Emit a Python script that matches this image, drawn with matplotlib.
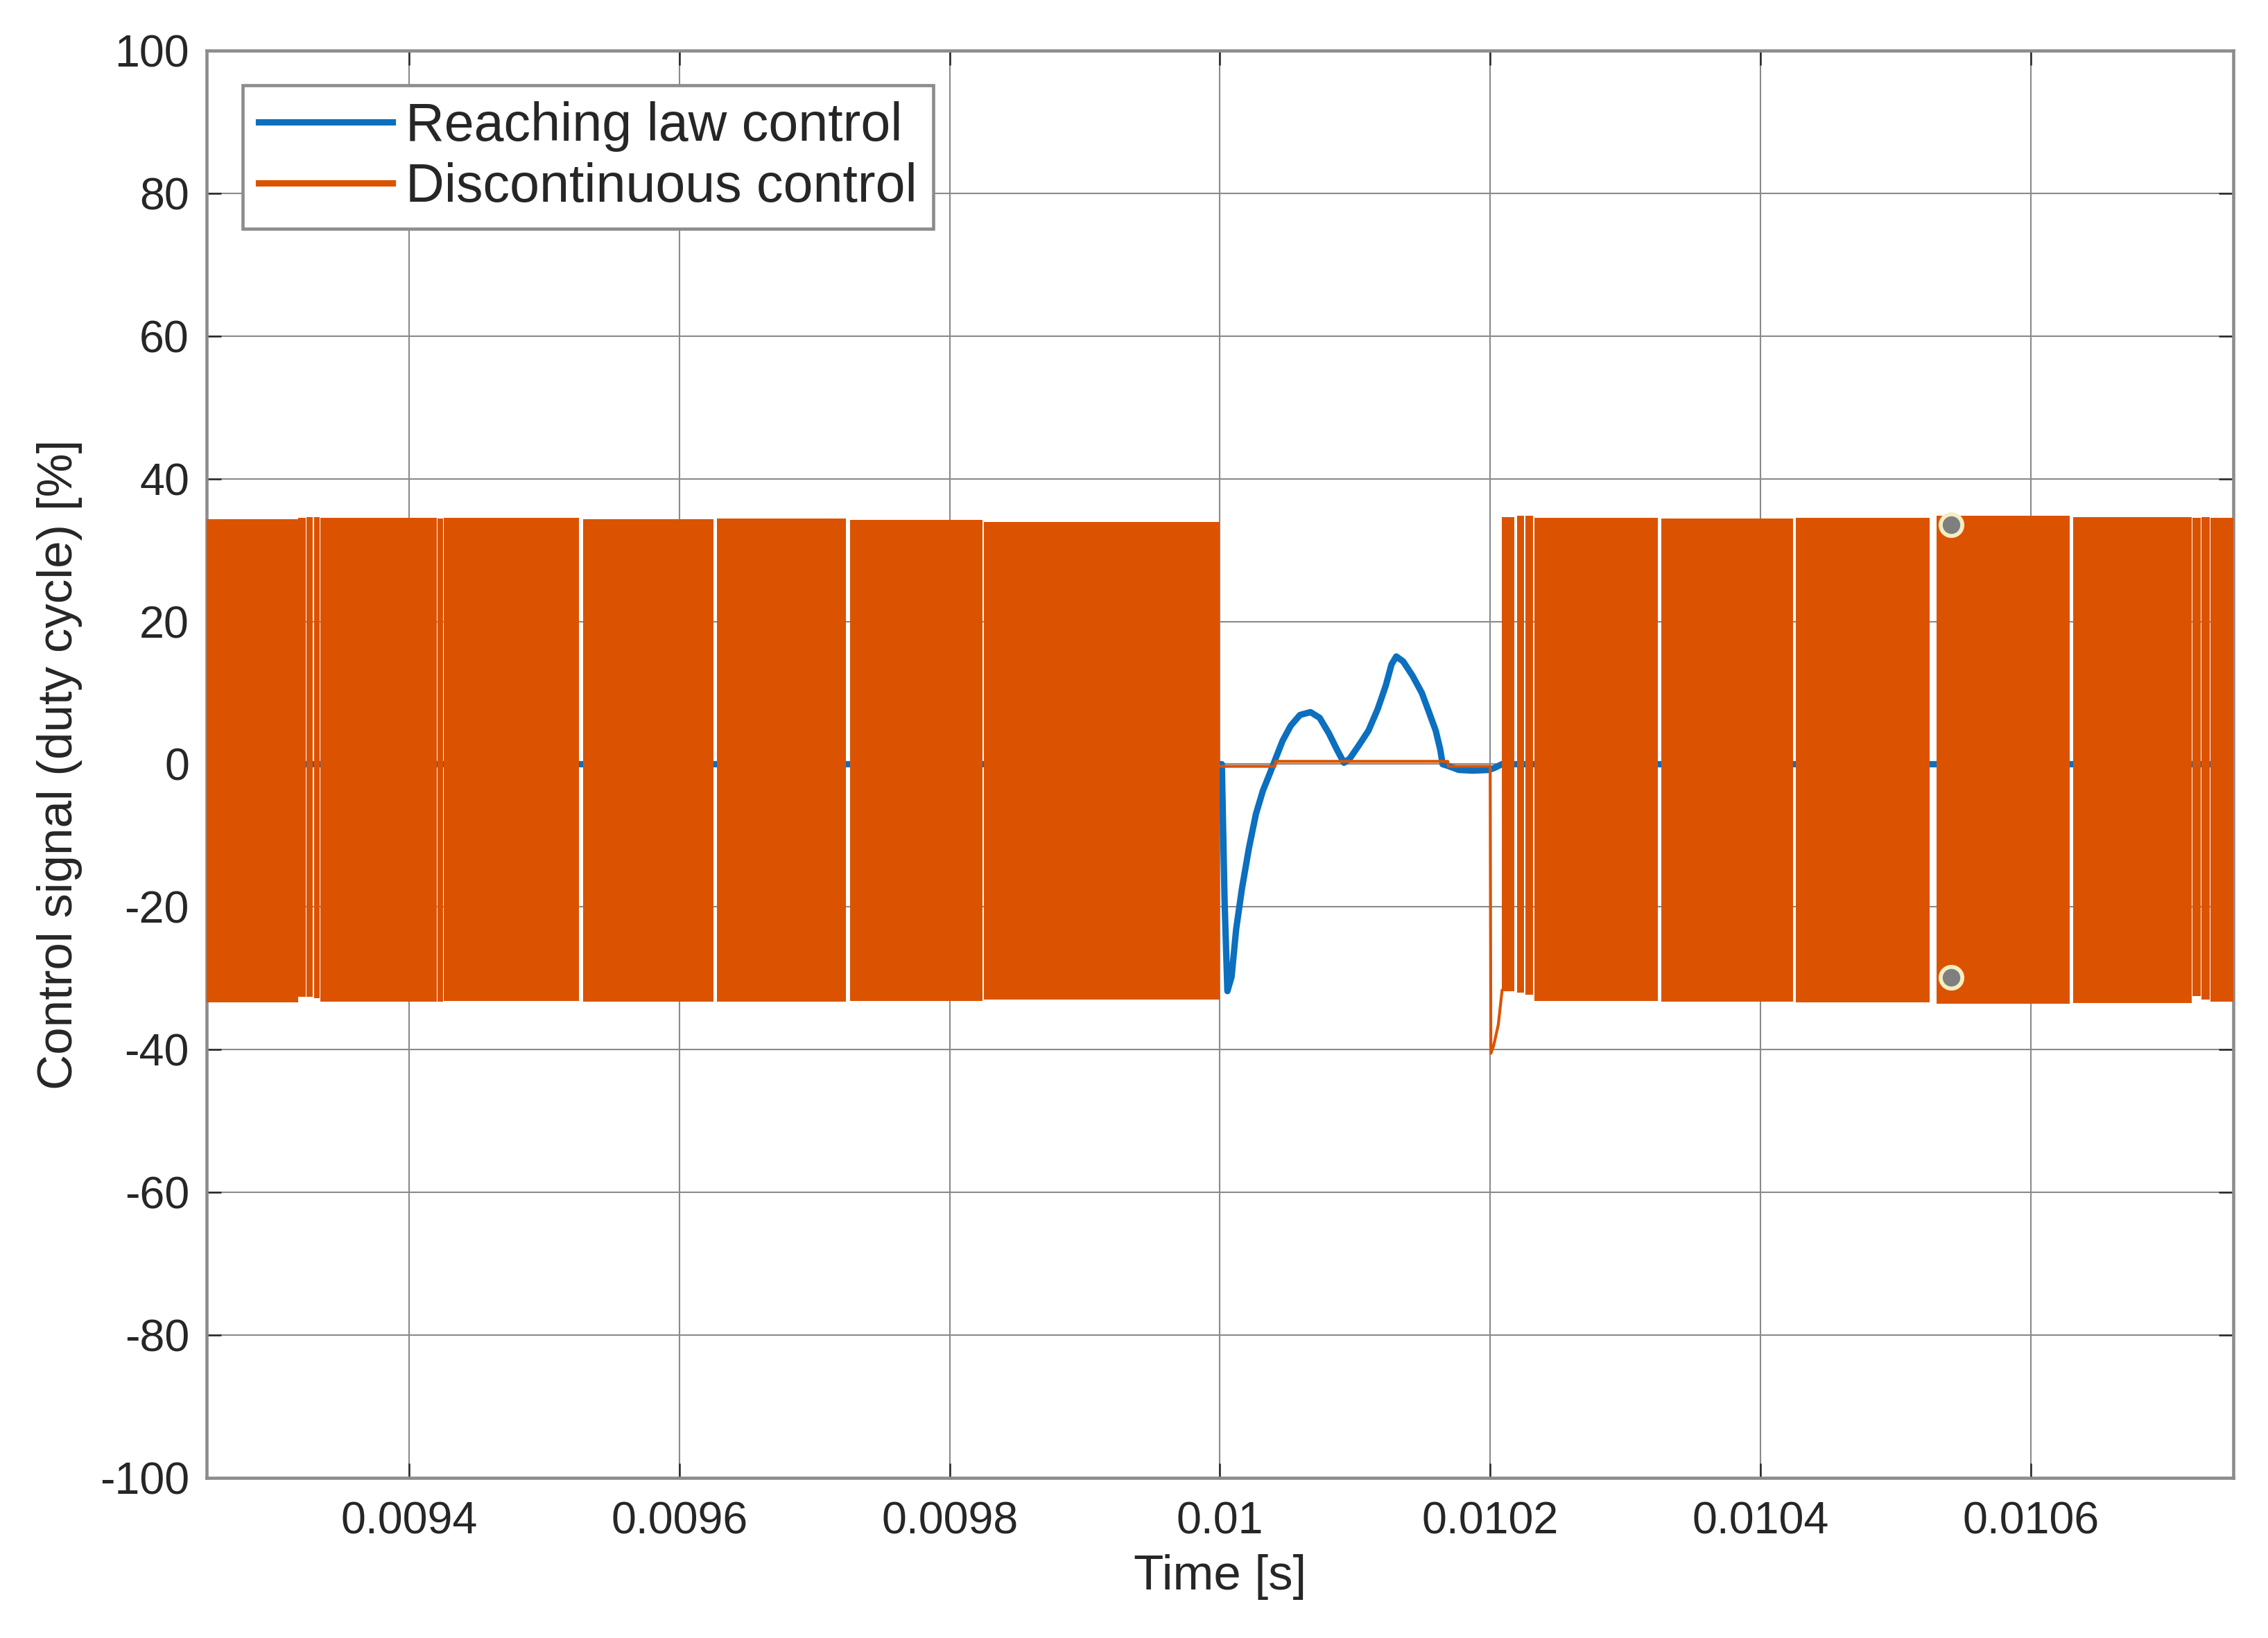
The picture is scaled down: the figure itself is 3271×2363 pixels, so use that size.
import numpy as np
import matplotlib.pyplot as plt

plt.rcParams['font.family'] = ['Liberation Sans', 'DejaVu Sans']
plt.rcParams['axes.unicode_minus'] = False

# reaching law control (blue) - zero outside the transient
t_reach = [0.00925, 0.0100000, 0.0100014, 0.0100034, 0.0100055, 0.0100086, 0.0100120, 0.0100163,
           0.0100215, 0.0100266, 0.0100318, 0.0100369, 0.0100412, 0.0100464, 0.0100524, 0.0100592,
           0.0100670, 0.0100738, 0.0100807, 0.0100867, 0.0100918, 0.0100961, 0.0101030, 0.0101099,
           0.0101167, 0.0101227, 0.0101270, 0.0101305, 0.0101356, 0.0101425, 0.0101494, 0.0101545,
           0.0101597, 0.0101631, 0.0101648, 0.0101682, 0.0101768, 0.0101871, 0.0101991, 0.0102034,
           0.0102086, 0.01075]
u_reach = [0, 0, 0, -19.0, -31.8, -29.8, -23.1, -17.4,
           -11.7, -7.0, -3.7, -1.3, 0.8, 3.3, 5.4, 6.9,
           7.3, 6.5, 4.3, 2.0, 0.2, 0.8, 2.7, 4.7,
           7.7, 11.0, 14.0, 15.1, 14.4, 12.4, 10.0, 7.4,
           4.7, 2.0, 0.0, -0.2, -0.8, -0.9, -0.8, -0.5,
           0, 0]

# discontinuous control between the switching bursts
t_disc = [0.0100000, 0.0100407, 0.0100412, 0.0101686, 0.0101691, 0.0102000,
          0.0102005, 0.0102025, 0.0102060, 0.0102088]
u_disc = [-0.3, -0.3, 0.4, 0.4, -0.3, -0.3,
          -40.5, -39.5, -36.5, -31.7]

# switching bursts (high frequency chattering) : start, end, upper and lower envelope
burst_start = [0.009250, 0.0093180, 0.0093240, 0.0093293, 0.0093340, 0.0094210, 0.0094257,
               0.0095285, 0.0096275, 0.0097260, 0.0098252,
               0.0102088, 0.0102200, 0.0102260, 0.0102325, 0.0103268, 0.0104262, 0.0105305,
               0.0106315, 0.0107198, 0.0107266, 0.0107332]
burst_end = [0.0093176, 0.0093233, 0.0093287, 0.0093335, 0.0094205, 0.0094252, 0.0095258,
             0.0096250, 0.0097234, 0.0098245, 0.0100000,
             0.0102178, 0.0102252, 0.0102318, 0.0103240, 0.0104240, 0.0105250, 0.0106290,
             0.0107190, 0.0107259, 0.0107326, 0.0107500]
burst_top = [34.3, 34.5, 34.6, 34.6, 34.5, 34.4, 34.5, 34.3, 34.4, 34.2, 33.9,
             34.6, 34.8, 34.8, 34.5, 34.4, 34.5, 34.8, 34.6, 34.5, 34.6, 34.5]
burst_bot = [-33.4, -32.6, -32.6, -32.8, -33.3, -33.3, -33.2, -33.3, -33.3, -33.2, -33.0,
             -31.8, -32.0, -32.3, -33.2, -33.3, -33.4, -33.6, -33.5, -32.5, -33.0, -33.3]

# data tips
tip_t = [0.0105413, 0.0105413]
tip_u = [33.6, -29.9]

x_ticks = [0.0094, 0.0096, 0.0098, 0.01, 0.0102, 0.0104, 0.0106]
x_labels = ['0.0094', '0.0096', '0.0098', '0.01', '0.0102', '0.0104', '0.0106']
y_ticks = [-100, -80, -60, -40, -20, 0, 20, 40, 60, 80, 100]

blue = '#0C6FBF'
orange = '#DB5300'
txt = '#262626'

fig = plt.figure(figsize=(3271/300, 2363/300), dpi=300)
ax = fig.add_axes([0.0911, 0.0978, 0.8936, 0.8713])

ax.plot(t_reach, u_reach, color=blue, lw=2.2, label='Reaching law control', zorder=3,
        solid_joinstyle='round')
for s, e, hi, lo in zip(burst_start, burst_end, burst_top, burst_bot):
    ax.fill_between([s, e], [lo, lo], [hi, hi], color=orange, lw=0, zorder=4)
ax.plot(t_disc, u_disc, color=orange, lw=1.0, label='Discontinuous control', zorder=5)
ax.plot(tip_t, tip_u, 'o', ms=7.5, mfc='#7f7f7f', mec='#f3efc4', mew=1.4, zorder=6)

ax.set_xlim(0.00925, 0.01075)
ax.set_ylim(-100, 100)
ax.set_xticks(x_ticks)
ax.set_xticklabels(x_labels)
ax.set_yticks(y_ticks)
ax.set_yticklabels([str(v) for v in y_ticks])

ax.grid(True, color='#8a8a8a', lw=0.5, zorder=0)
ax.set_axisbelow(True)
for sp in ax.spines.values():
    sp.set_color('#8c8c8c')
    sp.set_linewidth(1.1)
ax.tick_params(direction='in', length=5, width=0.6, color=txt, labelsize=15.5,
               labelcolor=txt, top=True, right=True)
ax.tick_params(axis='x', pad=8)
ax.tick_params(axis='y', pad=6)

ax.set_xlabel('Time [s]', fontsize=17, color=txt, labelpad=4)
ax.set_ylabel('Control signal (duty cycle) [%]', fontsize=17, color=txt, labelpad=6)

leg = ax.legend(loc='upper left', bbox_to_anchor=(0.0178, 0.9757), fontsize=18.5,
                frameon=True, fancybox=False, framealpha=1, edgecolor='#8c8c8c',
                handlelength=2.5, handletextpad=0.25, labelspacing=0.19, borderpad=0.3,
                borderaxespad=0)
leg.get_frame().set_linewidth(1.1)
for t in leg.get_texts():
    t.set_color(txt)
for h in leg.get_lines():
    h.set_linewidth(2.2)

fig.savefig('out.png', dpi=300)
